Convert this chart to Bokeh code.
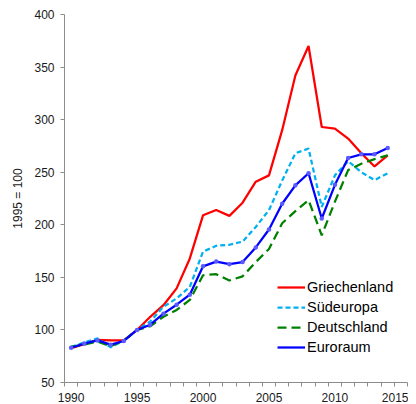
from bokeh.plotting import figure
from bokeh.models import Range1d, FixedTicker, Legend, LegendItem
from bokeh.embed import file_html
from bokeh.resources import INLINE

years = list(range(1990, 2015))
griechenland = [82.6, 86.5, 90.5, 90, 90, 100, 112.5, 123.5, 139.5, 168, 209, 214, 208.5, 221,
                241, 247, 290, 342, 370, 293, 291.5, 282, 268, 255.5, 266]
suedeuropa = [84, 88, 92, 83.5, 90, 100, 108, 122, 130, 141, 174.5, 180, 181, 184,
              198, 214, 242, 268, 272.5, 217, 247, 260.5, 250, 242.5, 249]
deutschland = [84, 86, 89, 84.5, 90, 100, 103.5, 112.5, 119, 128.5, 152, 153, 147, 151,
               164.5, 177, 201.5, 213, 223.5, 190, 222, 252, 258, 262.5, 266]
euroraum = [83, 87, 90, 86, 89.5, 100, 105, 115.5, 124, 133.5, 160.5, 165, 162.5, 164.5,
            178.5, 195.5, 220, 237.5, 249, 206, 238, 263.5, 267, 267, 273]

x_ticks = [1990, 1995, 2000, 2005, 2010, 2015]
x_minor = [y + 0.5 for y in range(1989, 2016)]
y_ticks = [50, 100, 150, 200, 250, 300, 350, 400]

FONT = "Liberation Sans"
AXIS_GRAY = "#8c8c8c"

p = figure(width=408, height=404, output_backend="svg", toolbar_location=None,
           x_range=Range1d(1989.5, 2015.5), y_range=Range1d(50, 400),
           min_border_left=64, min_border_right=1, min_border_top=14, min_border_bottom=21)
p.outline_line_color = None
p.xgrid.grid_line_color = None
p.ygrid.grid_line_color = None

r_gr = p.line(years, griechenland, line_color="#ff0000", line_width=2.25)
r_su = p.line(years, suedeuropa, line_color="#00b0f0", line_width=2.25, line_dash="5 3")
r_de = p.line(years, deutschland, line_color="#008000", line_width=2.25, line_dash="9 5")
r_eu = p.line(years, euroraum, line_color="#0000ff", line_width=2.25)
r_eum = p.scatter(years, euroraum, size=4.5, fill_color="#5a5aff", line_color=None)
# legend-only small marker for the Euroraum entry
r_eu_leg = p.scatter(x=[], y=[], marker="dot", size=6, line_color="#5a5aff",
                     fill_color="#5a5aff", line_width=3)

xa = p.xaxis[0]
xa.ticker = FixedTicker(ticks=x_ticks, minor_ticks=x_minor)
xa.major_tick_line_color = None
xa.major_tick_out = 0
xa.major_tick_in = 0
xa.minor_tick_out = 4
xa.minor_tick_in = 0
xa.minor_tick_line_color = AXIS_GRAY
xa.axis_line_color = AXIS_GRAY
xa.major_label_standoff = 6
xa.major_label_text_font = FONT
xa.major_label_text_font_size = "12px"
xa.major_label_text_color = "#1a1a1a"

ya = p.yaxis[0]
ya.ticker = FixedTicker(ticks=y_ticks, minor_ticks=[])
ya.major_tick_out = 4
ya.major_tick_in = 0
ya.major_tick_line_color = AXIS_GRAY
ya.axis_line_color = AXIS_GRAY
ya.major_label_standoff = 6
ya.major_label_text_font = FONT
ya.major_label_text_font_size = "12px"
ya.major_label_text_color = "#1a1a1a"
ya.axis_label = "1995 = 100"
ya.axis_label_text_font = FONT
ya.axis_label_text_font_size = "12px"
ya.axis_label_text_font_style = "normal"
ya.axis_label_text_color = "#1a1a1a"
ya.axis_label_standoff = 6

legend = Legend(items=[
    LegendItem(label="Griechenland", renderers=[r_gr]),
    LegendItem(label="Südeuropa", renderers=[r_su]),
    LegendItem(label="Deutschland", renderers=[r_de]),
    LegendItem(label="Euroraum", renderers=[r_eu, r_eu_leg]),
], location=(213, 25))
legend.padding = 0
legend.margin = 0
legend.spacing = 0
legend.label_height = 20
legend.glyph_height = 20
legend.glyph_width = 28
legend.label_standoff = 2
legend.border_line_color = None
legend.background_fill_alpha = 0
legend.label_text_font = FONT
legend.label_text_font_size = "14.5px"
legend.label_text_color = "#000000"
p.add_layout(legend, "center")

open("out.html", "w").write(file_html(p, INLINE))
